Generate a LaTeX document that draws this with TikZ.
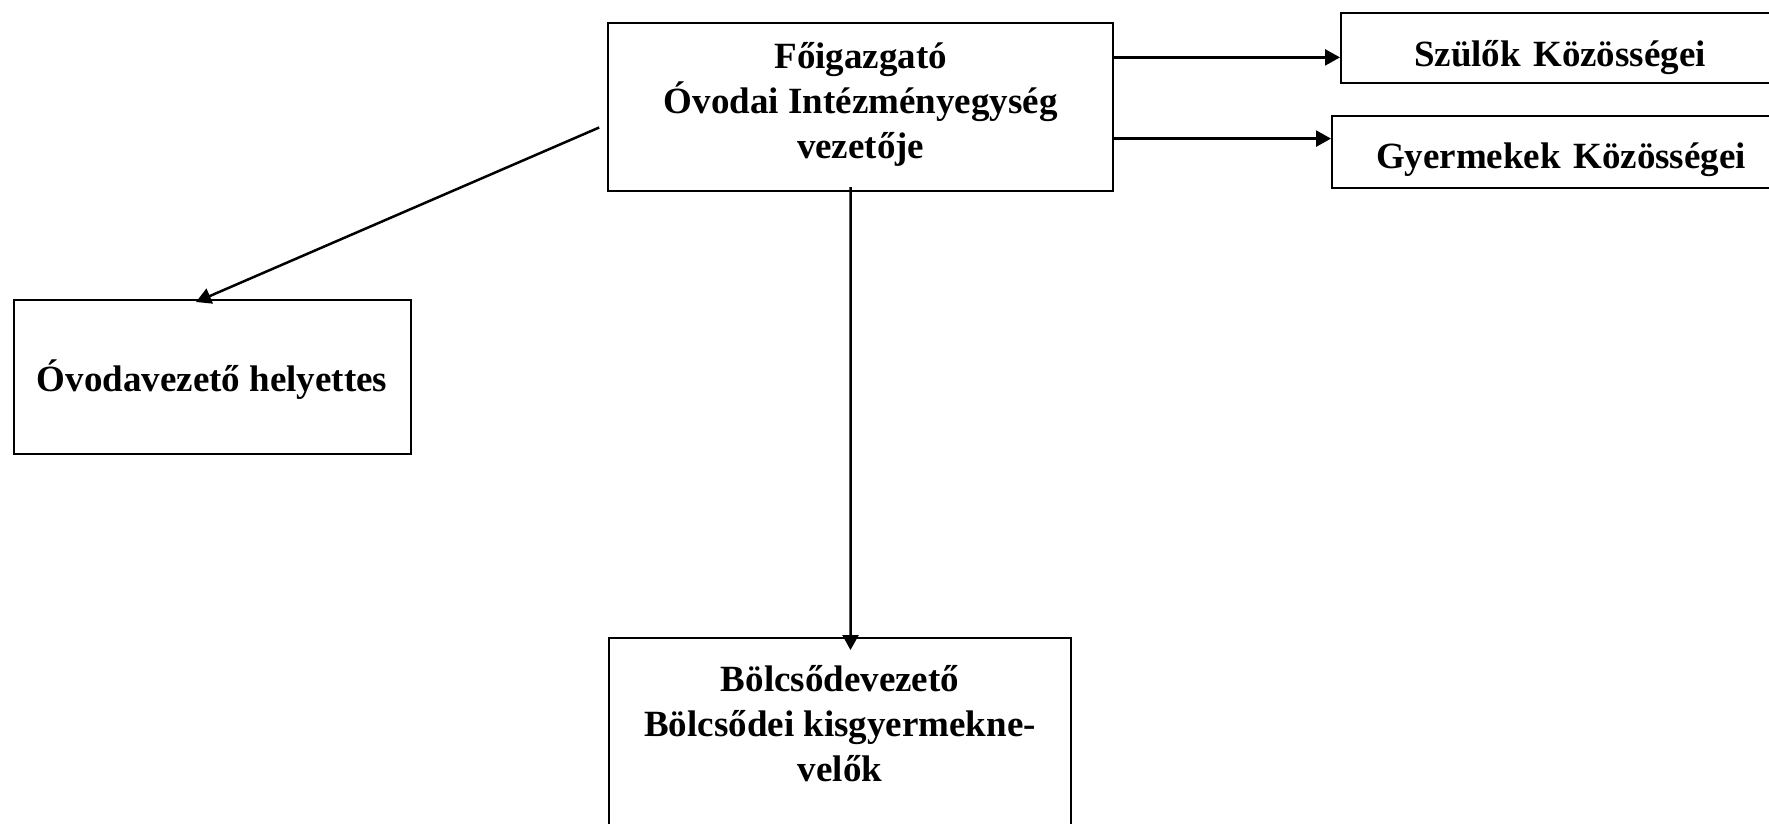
\documentclass[tikz,border=0pt]{standalone}
\usepackage{fontspec}
\setmainfont{Liberation Serif}
\usetikzlibrary{arrows.meta}

\tikzset{
  box/.style={draw, line width=2pt, inner sep=0pt, align=center,
    font=\bfseries\fontsize{37}{45}\selectfont},
  sidebox/.style={box, anchor=north west, text width=460pt, align=left},
  arr/.style={line width=2.5pt, -{Triangle[length=15pt,width=16pt]}}
}

\begin{document}
\begin{tikzpicture}[x=1pt,y=-1pt]
  \useasboundingbox (0,0) rectangle (1769,824);

  % boxes
  \node[box, minimum width=505pt, minimum height=168pt] (fo) at (860.7,107)
    {Főigazgató\\ Óvodai Intézményegység\\ vezetője\rule[-14pt]{0pt}{0pt}};
  \node[sidebox, inner xsep=73pt, minimum height=70pt, text height=40pt, text depth=2pt]
    (szulok) at (1340,12) {Szülők Közösségei};
  \node[sidebox, inner xsep=44pt, minimum height=72pt, text height=36pt, text depth=4pt]
    (gyermek) at (1331,115) {Gyermekek Közösségei};
  \node[box, anchor=north west, minimum width=397pt, minimum height=154pt,
    text height=34pt, text depth=6pt] (helyettes) at (12.5,299) {Óvodavezető helyettes};
  \node[box, anchor=north, minimum width=462pt, inner ysep=27pt] (bolcsode) at (840,637)
    {Bölcsődevezető\\ Bölcsődei kisgyermekne-\\ velők\rule[-150pt]{0pt}{0pt}};

  % arrows
  \coordinate (szin) at ([yshift=-9.4pt]szulok.west);
  \coordinate (gyin) at ([yshift=13.4pt]gyermek.west);
  \draw[arr] (fo.east |- szin) -- (szin);
  \draw[arr] (fo.east |- gyin) -- (gyin);
  \draw[arr] ([xshift=-8pt,yshift=-20.5pt]fo.west) -- ([xshift=-16pt,yshift=-3pt]helyettes.north);
  \draw[arr] ([xshift=-10pt,yshift=5pt]fo.south) -- ([xshift=10.5pt,yshift=-13pt]bolcsode.north);
\end{tikzpicture}
\end{document}
